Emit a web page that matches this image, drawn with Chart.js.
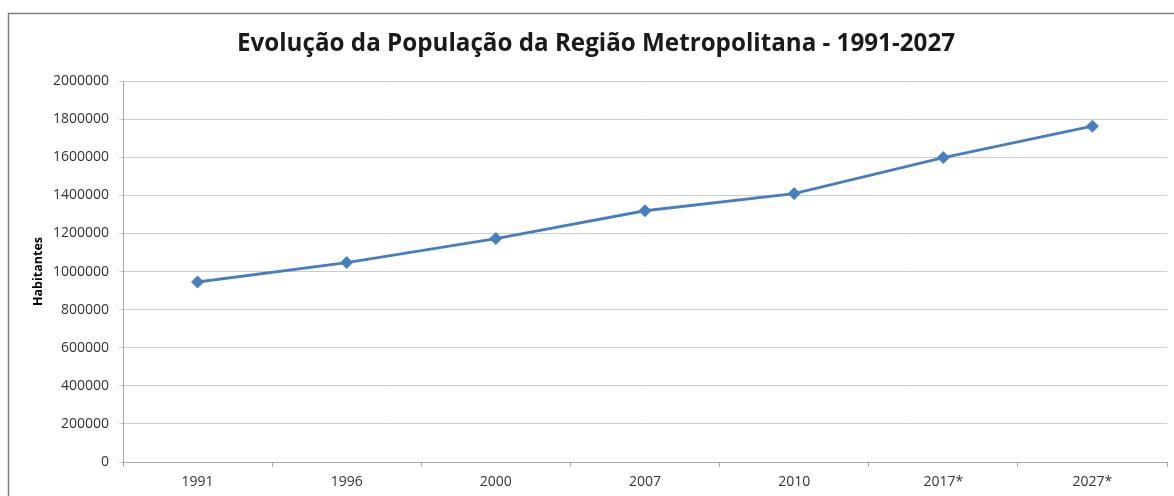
<!DOCTYPE html>
<html>
<head>
<meta charset="utf-8">
<script src="https://cdn.jsdelivr.net/npm/chart.js@4/dist/chart.umd.min.js"></script>
<style>
  html, body { margin: 0; padding: 0; background: #fff; }
  #wrap { position: relative; width: 1174px; height: 496px; }
</style>
</head>
<body>
<div id="wrap"><canvas id="popChart"></canvas></div>
<script>
// Data
const years = ['1991', '1996', '2000', '2007', '2010', '2017*', '2027*'];
const habitantes = [945000, 1047000, 1173000, 1319000, 1409000, 1598000, 1763000];
const yTicks = [0, 200000, 400000, 600000, 800000, 1000000, 1200000, 1400000, 1600000, 1800000, 2000000];

const chartTitle = 'Evolução da População da Região Metropolitana - 1991-2027';
const yTitle = 'Habitantes';

// outer frame like the spreadsheet chart box
const frameBorder = {
    id: 'frameBorder',
    beforeDraw(chart) {
        const ctx = chart.ctx;
        ctx.save();
        ctx.strokeStyle = '#7f7f7f';
        ctx.lineWidth = 1.5;
        ctx.strokeRect(8.5, 13.5, chart.width + 20, chart.height + 20);
        ctx.restore();
    }
};

const ctx = document.getElementById('popChart').getContext('2d');
const popChart = new Chart(ctx, {
    type: 'line',
    data: {
        labels: years,
        datasets: [{
            label: yTitle,
            data: habitantes,
            borderColor: '#4a7ebb',
            backgroundColor: '#4a7ebb',
            borderWidth: 2.8,
            pointStyle: 'rectRot',
            pointRadius: 6,
            pointBorderWidth: 1,
            pointBackgroundColor: '#4a7ebb',
            pointBorderColor: '#4a7ebb',
            tension: 0
        }]
    },
    options: {
        responsive: true,
        maintainAspectRatio: false,
        animation: false,
        layout: {
            padding: { left: 24, right: 6, top: 0, bottom: 0 }
        },
        plugins: {
            legend: { display: false },
            tooltip: { enabled: false },
            title: {
                display: true,
                text: chartTitle,
                color: '#1a1a1a',
                font: { family: 'Open Sans', size: 24.2, weight: 'bold' },
                padding: { top: 30, bottom: 22 }
            }
        },
        scales: {
            x: {
                offset: true,
                grid: {
                    offset: true,
                    drawOnChartArea: false,
                    drawTicks: true,
                    tickLength: 5,
                    color: '#a6a6a6'
                },
                border: { color: '#a6a6a6', width: 1 },
                ticks: {
                    color: '#333333',
                    font: { family: 'Open Sans', size: 14 },
                    padding: 7,
                    maxRotation: 0
                },
                afterFit(scale) { scale.height = 34; }
            },
            y: {
                min: 0,
                max: 2000000,
                afterBuildTicks(scale) {
                    scale.ticks = yTicks.map(v => ({ value: v }));
                },
                grid: {
                    color: '#cccccc',
                    tickLength: 4,
                    lineWidth: 1
                },
                border: { color: '#a6a6a6', width: 1 },
                ticks: {
                    color: '#333333',
                    font: { family: 'Open Sans', size: 14 },
                    padding: 10,
                    callback: v => String(v)
                },
                title: {
                    display: true,
                    text: yTitle,
                    color: '#000000',
                    font: { family: 'Open Sans', size: 12.5, weight: 'bold' },
                    padding: { top: 7, bottom: 0 }
                },
                afterFit(scale) { scale.width = 99; }
            }
        }
    },
    plugins: [frameBorder]
});
</script>
</body>
</html>
